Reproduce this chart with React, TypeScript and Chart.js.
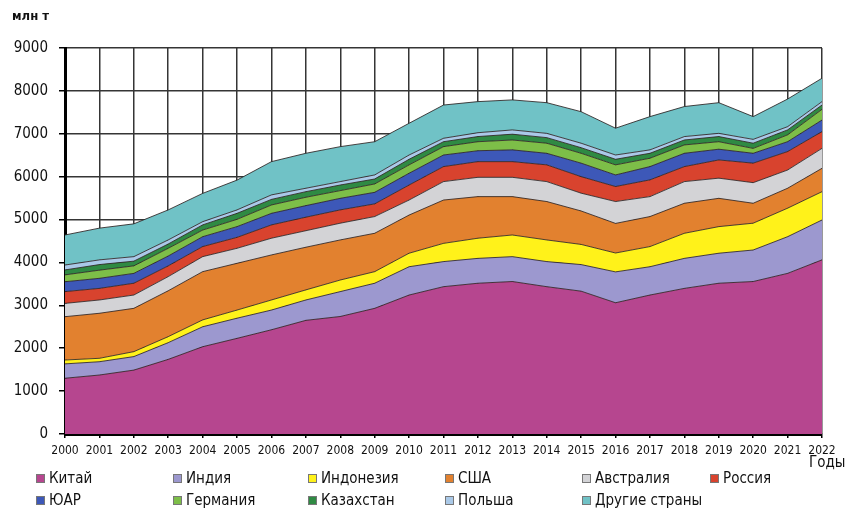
import React, { useEffect, useRef } from "react";
import { Chart, registerables } from "chart.js";

Chart.register(...registerables);

const years = ["2000","2001","2002","2003","2004","2005","2006","2007","2008","2009","2010","2011","2012","2013","2014","2015","2016","2017","2018","2019","2020","2021","2022"];
const yTicks = [0, 1000, 2000, 3000, 4000, 5000, 6000, 7000, 8000, 9000];

const china = [1300,1375,1490,1740,2035,2230,2430,2650,2740,2930,3240,3435,3515,3555,3435,3330,3060,3240,3395,3515,3555,3745,4060];
const india = [335,310,315,390,465,470,460,475,580,585,660,585,580,580,585,620,720,660,700,700,735,855,930];
const indonesia = [90,80,115,140,160,190,235,235,270,270,315,425,470,505,505,470,440,470,585,620,625,665,660];
const usa = [1010,1050,1010,1070,1125,1090,1050,995,935,895,890,1010,970,895,895,780,690,700,700,660,465,465,545];
const australia = [310,310,310,330,350,350,390,385,390,390,350,430,450,450,465,415,510,465,505,470,480,425,465];
const russia = [275,270,275,250,235,255,310,315,310,295,350,350,365,365,390,385,350,390,350,425,455,430,390];
const southAfrica = [230,235,230,230,230,250,270,270,270,270,275,270,255,275,270,315,270,310,310,250,230,230,270];
const germany = [160,190,175,180,155,170,195,195,180,195,195,195,210,230,235,230,235,195,195,175,115,160,250];
const kazakhstan = [115,130,110,100,120,140,130,130,130,115,130,115,120,135,130,130,130,115,115,120,120,115,100];
const poland = [115,110,105,95,75,80,105,80,80,95,100,80,90,100,100,105,100,80,80,75,90,75,80];
const others = [700,740,765,700,660,695,775,815,815,775,740,775,725,700,715,735,625,775,700,715,530,645,545];

const seriesNames = ["Китай","Индия","Индонезия","США","Австралия","Россия","ЮАР","Германия","Казахстан","Польша","Другие страны"];
const seriesData = [china, india, indonesia, usa, australia, russia, southAfrica, germany, kazakhstan, poland, others];
const seriesColors = ["#B6468F","#9C98CF","#FFF21A","#E2812F","#D3D3D6","#D8432E","#3D58B8","#7DBE48","#2F8A43","#AAC9E8","#70C2C6"];

const FONT = "'Liberation Sans Narrow', 'DejaVu Sans Condensed', 'Arial Narrow', 'Liberation Sans', sans-serif";

const legendCols = [36, 173, 308, 445, 582, 710];
const legendRows = [478, 500];

export default function App() {
  const ref = useRef<HTMLCanvasElement | null>(null);

  useEffect(() => {
    if (!ref.current) return;
    const chart = new Chart(ref.current, {
      type: "line",
      data: {
        labels: years,
        datasets: seriesNames.map((name, i) => ({
          label: name,
          data: seriesData[i],
          backgroundColor: seriesColors[i],
          borderColor: "rgba(45,35,35,0.85)",
          borderWidth: 1,
          pointRadius: 0,
          tension: 0,
          fill: i === 0 ? "origin" : "-1",
        })),
      },
      options: {
        animation: false,
        responsive: false,
        devicePixelRatio: 1,
        layout: { padding: { left: 0, top: 48, right: 37, bottom: 50 } },
        plugins: { legend: { display: false }, tooltip: { enabled: false } },
        scales: {
          x: {
            type: "category",
            offset: false,
            grid: { color: "#353535", lineWidth: 1.5, tickLength: 4, tickColor: "#000" },
            border: { display: true, color: "#000", width: 3 },
            ticks: { autoSkip: false, maxRotation: 0, minRotation: 0, color: "#111", padding: 6, font: { family: FONT, size: 12 } },
            afterFit: (s: any) => { s.height = 30; },
          },
          y: {
            stacked: true,
            min: 0,
            max: 9000,
            afterBuildTicks: (s: any) => { s.ticks = yTicks.map((v) => ({ value: v })); },
            grid: { color: "#353535", lineWidth: 1.5, tickLength: 6, tickColor: "#000" },
            border: { display: true, color: "#000", width: 3 },
            ticks: { color: "#111", padding: 11, font: { family: FONT, size: 15 }, callback: (v: any) => String(v) },
            afterFit: (s: any) => { s.width = 65; },
          },
        },
      },
    });
    return () => chart.destroy();
  }, []);

  return (
    <div style={{ position: "fixed", left: 0, top: 0, width: 859, height: 514, background: "#fff", overflow: "hidden", fontFamily: FONT }}>
      <canvas ref={ref} width={859} height={514} style={{ position: "absolute", left: 0, top: 0, width: 859, height: 514 }} />
      <div style={{ position: "absolute", left: 12, top: 8, fontSize: 13, fontWeight: 700, color: "#111" }}>млн т</div>
      <div style={{ position: "absolute", left: 809, top: 453, fontSize: 15, color: "#111" }}>Годы</div>
      {seriesNames.map((name, i) => {
        const row = i < 6 ? 0 : 1;
        const col = i < 6 ? i : i - 6;
        return (
          <div key={name} style={{ position: "absolute", left: legendCols[col], top: legendRows[row] - 10, height: 20, display: "flex", alignItems: "center", fontSize: 15, color: "#111", whiteSpace: "nowrap" }}>
            <span style={{ display: "inline-block", width: 7, height: 7, background: seriesColors[i], border: "1px solid #777", marginRight: 4 }} />
            {name}
          </div>
        );
      })}
    </div>
  );
}
